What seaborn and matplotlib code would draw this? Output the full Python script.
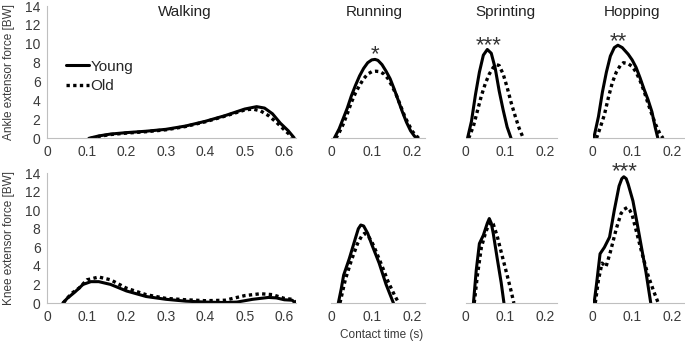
import matplotlib
matplotlib.use("Agg")
import matplotlib.pyplot as plt
import seaborn as sns

# contact time (s) and force (BW)
walk_ankle_young_t = [0.105, 0.13, 0.16, 0.2, 0.25, 0.3, 0.35, 0.4, 0.45, 0.5, 0.53, 0.55, 0.57, 0.59, 0.61, 0.625]
walk_ankle_young_f = [0, 0.25, 0.45, 0.6, 0.75, 0.95, 1.3, 1.8, 2.4, 3.1, 3.35, 3.2, 2.6, 1.6, 0.8, 0.05]
walk_ankle_old_t = [0.11, 0.13, 0.16, 0.2, 0.25, 0.3, 0.35, 0.4, 0.45, 0.5, 0.52, 0.54, 0.56, 0.58, 0.6, 0.62]
walk_ankle_old_f = [0, 0.2, 0.4, 0.55, 0.7, 0.9, 1.25, 1.75, 2.35, 3.0, 3.1, 2.9, 2.4, 1.7, 0.9, 0.15]

run_ankle_young_t = [0.008, 0.02, 0.03, 0.04, 0.05, 0.06, 0.07, 0.08, 0.09, 0.1, 0.108, 0.115, 0.125, 0.135, 0.145, 0.155, 0.165, 0.175, 0.185, 0.195, 0.205, 0.212]
run_ankle_young_f = [0, 1.0, 2.1, 3.2, 4.5, 5.6, 6.6, 7.4, 8.0, 8.3, 8.35, 8.25, 7.8, 7.1, 6.3, 5.2, 4.0, 2.8, 1.7, 0.8, 0.2, 0.05]
run_ankle_old_t = [0.012, 0.02, 0.03, 0.04, 0.05, 0.06, 0.07, 0.08, 0.09, 0.1, 0.11, 0.12, 0.13, 0.14, 0.15, 0.16, 0.17, 0.18, 0.19, 0.2, 0.215]
run_ankle_old_f = [0, 0.6, 1.5, 2.6, 3.8, 4.8, 5.6, 6.3, 6.8, 7.05, 7.1, 7.05, 6.8, 6.3, 5.5, 4.6, 3.5, 2.4, 1.5, 0.7, 0]

sprint_ankle_young_t = [0.005, 0.015, 0.025, 0.035, 0.045, 0.055, 0.065, 0.075, 0.085, 0.095, 0.105, 0.115]
sprint_ankle_young_f = [0, 1.8, 4.6, 7.0, 8.8, 9.4, 9.0, 7.4, 5.0, 3.0, 1.2, 0]
sprint_ankle_old_t = [0.008, 0.02, 0.03, 0.04, 0.05, 0.06, 0.07, 0.078, 0.085, 0.095, 0.105, 0.115, 0.125, 0.135, 0.146]
sprint_ankle_old_f = [0, 1.3, 2.9, 4.5, 5.8, 6.8, 7.5, 7.8, 7.7, 6.8, 5.4, 3.8, 2.4, 1.1, 0]

hop_ankle_young_t = [0.003, 0.015, 0.025, 0.035, 0.045, 0.055, 0.064, 0.075, 0.09, 0.1, 0.11, 0.12, 0.13, 0.14, 0.15, 0.158, 0.165]
hop_ankle_young_f = [0, 2.3, 4.9, 7.0, 8.7, 9.6, 9.85, 9.6, 8.9, 8.3, 7.5, 6.4, 5.2, 4.1, 2.8, 1.2, 0]
hop_ankle_old_t = [0.01, 0.02, 0.03, 0.04, 0.05, 0.06, 0.07, 0.078, 0.09, 0.1, 0.11, 0.12, 0.13, 0.14, 0.15, 0.16, 0.17, 0.178]
hop_ankle_old_f = [0, 1.2, 2.5, 4.3, 5.9, 7.0, 7.7, 8.0, 7.9, 7.6, 7.0, 6.1, 5.0, 3.7, 2.5, 1.4, 0.5, 0]

walk_knee_young_t = [0.039, 0.05, 0.07, 0.09, 0.11, 0.13, 0.16, 0.2, 0.25, 0.3, 0.35, 0.4, 0.45, 0.48, 0.52, 0.56, 0.58, 0.6, 0.62, 0.628]
walk_knee_young_f = [0, 0.5, 1.2, 2.0, 2.3, 2.3, 2.0, 1.3, 0.7, 0.4, 0.2, 0.1, 0.05, 0.1, 0.4, 0.6, 0.55, 0.35, 0.3, 0]
walk_knee_old_t = [0.04, 0.06, 0.08, 0.1, 0.13, 0.16, 0.2, 0.25, 0.3, 0.35, 0.4, 0.45, 0.5, 0.54, 0.57, 0.6, 0.62, 0.628]
walk_knee_old_f = [0, 1.0, 1.6, 2.5, 2.8, 2.5, 1.6, 0.9, 0.5, 0.35, 0.25, 0.3, 0.8, 1.0, 0.9, 0.5, 0.4, 0.1]

run_knee_young_t = [0.018, 0.025, 0.031, 0.045, 0.06, 0.067, 0.073, 0.08, 0.09, 0.1, 0.118, 0.135, 0.153]
run_knee_young_f = [0, 1.5, 3.0, 4.8, 7.0, 8.0, 8.4, 8.3, 7.5, 6.3, 4.3, 2.0, 0]
run_knee_old_t = [0.022, 0.035, 0.05, 0.065, 0.075, 0.082, 0.09, 0.1, 0.11, 0.125, 0.14, 0.155, 0.166]
run_knee_old_f = [0, 2.5, 4.6, 6.4, 7.2, 7.5, 7.3, 6.6, 5.6, 4.0, 2.3, 0.9, 0]

sprint_knee_young_t = [0.02, 0.027, 0.035, 0.045, 0.055, 0.06, 0.065, 0.07, 0.08, 0.09, 0.097]
sprint_knee_young_f = [0, 3.5, 6.4, 7.3, 8.6, 9.1, 8.6, 7.5, 4.8, 2.2, 0]
sprint_knee_old_t = [0.022, 0.03, 0.04, 0.05, 0.058, 0.064, 0.07, 0.08, 0.09, 0.105, 0.115, 0.122]
sprint_knee_old_f = [0, 3.0, 6.0, 7.5, 8.4, 8.75, 8.5, 7.2, 5.5, 3.0, 1.3, 0]

hop_knee_young_t = [0.004, 0.01, 0.019, 0.03, 0.043, 0.055, 0.067, 0.074, 0.079, 0.085, 0.09, 0.102, 0.113, 0.124, 0.135, 0.147]
hop_knee_young_f = [0, 2.0, 5.3, 6.0, 7.1, 10.0, 12.6, 13.4, 13.6, 13.4, 12.8, 11.0, 8.5, 5.9, 3.3, 0]
hop_knee_old_t = [0.007, 0.015, 0.024, 0.034, 0.045, 0.06, 0.072, 0.08, 0.088, 0.094, 0.1, 0.112, 0.124, 0.14, 0.155, 0.166]
hop_knee_old_f = [0, 2.5, 4.3, 3.9, 5.5, 8.0, 9.65, 10.1, 10.3, 10.0, 9.5, 7.5, 5.5, 3.0, 1.2, 0]

tasks = ["Walking", "Running", "Sprinting", "Hopping"]
ankle = [
    (walk_ankle_young_t, walk_ankle_young_f, walk_ankle_old_t, walk_ankle_old_f),
    (run_ankle_young_t, run_ankle_young_f, run_ankle_old_t, run_ankle_old_f),
    (sprint_ankle_young_t, sprint_ankle_young_f, sprint_ankle_old_t, sprint_ankle_old_f),
    (hop_ankle_young_t, hop_ankle_young_f, hop_ankle_old_t, hop_ankle_old_f),
]
knee = [
    (walk_knee_young_t, walk_knee_young_f, walk_knee_old_t, walk_knee_old_f),
    (run_knee_young_t, run_knee_young_f, run_knee_old_t, run_knee_old_f),
    (sprint_knee_young_t, sprint_knee_young_f, sprint_knee_old_t, sprint_knee_old_f),
    (hop_knee_young_t, hop_knee_young_f, hop_knee_old_t, hop_knee_old_f),
]
# significance marks: (task index, x, y, text)
ankle_stars = [(1, 0.108, 8.3, "*"), (2, 0.058, 9.2, "***"), (3, 0.066, 9.6, "**")]
knee_stars = [(3, 0.08, 13.6, "***")]

sns.set_style("white")
plt.rcParams["font.family"] = ["Liberation Sans", "DejaVu Sans"]

fig = plt.figure(figsize=(6.85, 3.42), dpi=100)

lefts = [0.0693, 0.4832, 0.6796, 0.865]
widths = [0.363, 0.137, 0.133, 0.133]
xmax = [0.63, 0.23, 0.23, 0.23]
title_x = [0.270, 0.547, 0.738, 0.922]
row_bottoms = [0.5956, 0.114]
row_heights = [0.3868, 0.380]
grey = "#bfbfbf"
txt = "#3a3a3a"

axes = []
for r, (rows, stars) in enumerate([(ankle, ankle_stars), (knee, knee_stars)]):
    row_axes = []
    for c in range(4):
        ax = fig.add_axes([lefts[c], row_bottoms[r], widths[c], row_heights[r]])
        yt, yf, ot, of = rows[c]
        sns.lineplot(x=yt, y=yf, ax=ax, color="black", linewidth=2.2, sort=False, label="Young")
        sns.lineplot(x=ot, y=of, ax=ax, color="black", linewidth=2.4, linestyle=(0, (1, 1)), sort=False, label="Old")
        ax.set_xlim(0, xmax[c])
        ax.set_ylim(0, 14)
        if c == 0:
            ax.set_xticks([0, 0.1, 0.2, 0.3, 0.4, 0.5, 0.6])
            ax.set_xticklabels(["0", "0.1", "0.2", "0.3", "0.4", "0.5", "0.6"])
            ax.set_yticks(range(0, 15, 2))
        else:
            ax.set_xticks([0, 0.1, 0.2])
            ax.set_xticklabels(["0", "0.1", "0.2"])
            ax.set_yticks([])
        for s in ["top", "right"]:
            ax.spines[s].set_visible(False)
        ax.spines["left"].set_visible(c == 0)
        ax.spines["left"].set_color(grey)
        ax.spines["bottom"].set_color(grey)
        ax.tick_params(axis="x", direction="in", length=3, color=grey, labelsize=10, labelcolor=txt, pad=5)
        ax.tick_params(axis="y", direction="out", length=3, color=grey, labelsize=10, labelcolor=txt, pad=2)
        ax.set_xlabel("")
        ax.set_ylabel("")
        leg = ax.get_legend()
        if leg is not None:
            leg.remove()
        for sc, sx, sy, st in stars:
            if sc == c:
                ax.text(sx, sy, st, ha="center", va="baseline", fontsize=16, color="#333333", clip_on=False)
        row_axes.append(ax)
    axes.append(row_axes)

for c in range(4):
    fig.text(title_x[c], 0.965, tasks[c], ha="center", va="center", fontsize=11, color="#222222")

axes[0][0].legend(loc="upper left", bbox_to_anchor=(0.05, 0.64), frameon=False, fontsize=11,
                  handlelength=1.5, handletextpad=0.1, labelspacing=0.35, borderaxespad=0)

fig.text(0.013, row_bottoms[0] + row_heights[0] / 2, "Ankle extensor force [BW]", rotation=90,
         ha="center", va="center", fontsize=8.5, color=txt)
fig.text(0.013, row_bottoms[1] + row_heights[1] / 2, "Knee extensor force [BW]", rotation=90,
         ha="center", va="center", fontsize=8.5, color=txt)
fig.text(0.557, 0.02, "Contact time (s)", ha="center", va="center", fontsize=8.5, color=txt)

fig.savefig("out.png", dpi=100)
